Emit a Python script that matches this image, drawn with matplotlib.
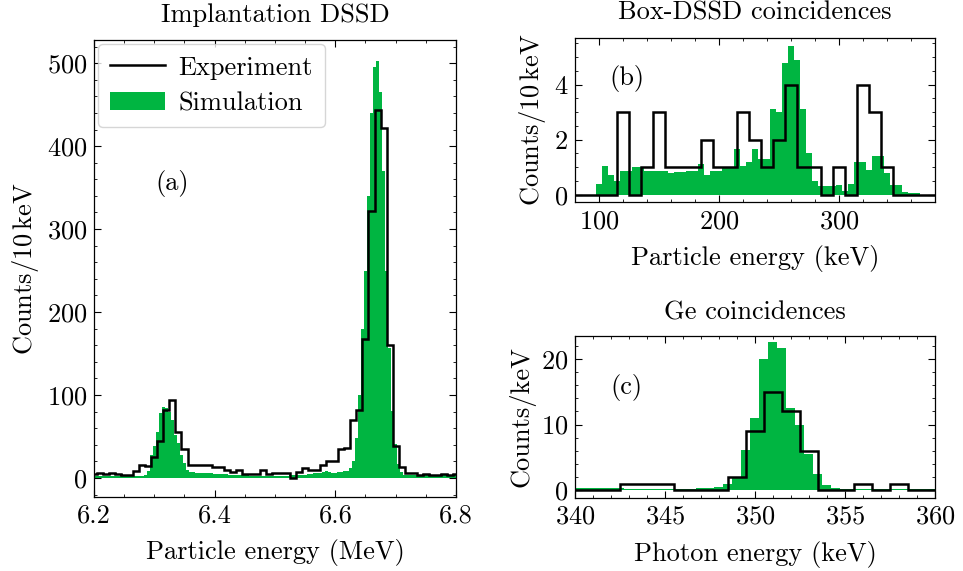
import numpy as np
import matplotlib
matplotlib.use("Agg")
import matplotlib.pyplot as plt
from matplotlib.ticker import MultipleLocator

plt.rcParams['font.family'] = 'serif'
plt.rcParams['font.serif'] = ['cmr10']
plt.rcParams['mathtext.fontset'] = 'cm'
plt.rcParams['axes.formatter.use_mathtext'] = True
plt.rcParams['axes.unicode_minus'] = False

GREEN = '#00b541'
FS = 19

# ---------------- Panel (a): Implantation DSSD ----------------
# Experiment: 10 keV bins centred on 6.20, 6.21, ... 6.80 MeV
exp_a_centers = np.round(6.20 + 0.01 * np.arange(61), 3)
exp_a_counts = [5, 6, 5, 6, 5, 4, 4, 8, 15, 14,
                25, 45, 82, 94, 55, 35, 15, 16, 16, 15,
                13, 13, 9, 7, 9, 5, 5, 5, 9, 5,
                6, 6, 6, 0.5, 7, 12, 9, 10, 16, 20,
                21, 35, 36, 70, 82, 168, 322, 443, 422, 160,
                39, 13, 6, 6, 4, 5, 4, 4, 5, 4, 5]
exp_a_width = 0.01

# Simulation: 5 keV bins centred on 6.200, 6.205, ... 6.800 MeV
sim_a_centers = np.round(6.20 + 0.005 * np.arange(121), 4)
sim_a_counts = [2, 2, 2, 2, 2, 2, 2, 2, 2, 2,
                2, 2, 2, 2, 2, 2, 2.5, 3, 8, 28,        # 6.250 .. 6.295
                38, 55, 78, 85, 84, 80, 70, 52, 42, 28,  # 6.300 .. 6.345
                18, 10, 7, 7, 6, 5.5, 5.5, 5.5, 5.5, 5.5,  # 6.350 .. 6.395
                5, 4.5, 4.5, 4.5, 4.5, 4, 3.5, 3.5, 3.5, 3.5,  # 6.400 .. 6.445
                3, 3, 2.5, 2.5, 2.5, 2.5, 2.5, 2.5, 2.5, 2.5,  # 6.450 .. 6.495
                2.5, 2.5, 2.5, 2.5, 2.5, 3, 3, 3, 3, 3.5,      # 6.500 .. 6.545
                4, 4.5, 5, 5.5, 6, 6.5, 7, 8.5, 7, 6.5,        # 6.550 .. 6.595
                6.5, 7, 7, 8, 8, 12, 20, 48, 100, 180,         # 6.600 .. 6.645
                250, 340, 440, 495, 503, 465, 370, 250, 157, 81,  # 6.650 .. 6.695
                41, 17, 7, 4, 3, 3, 3, 3, 3, 3,                # 6.700 .. 6.745
                3, 3, 3, 3, 3, 3, 3, 3, 3, 3, 3]               # 6.750 .. 6.800
sim_a_width = 0.005

# ---------------- Panel (b): Box-DSSD coincidences ----------------
exp_b_centers = np.arange(80, 381, 10)
exp_b_counts = [0, 0, 0, 0, 3, 0, 1, 3, 1, 1,
                1, 2, 1, 1, 3, 2, 1, 2, 4, 1,
                1, 0, 1, 0, 4, 3, 1, 0, 0, 0, 0]
exp_b_width = 10

sim_b_centers = np.arange(100, 366, 5)
sim_b_counts = [0.4, 1.05, 0.7, 0.5, 0.85, 0.85, 1.0, 1.0, 0.85, 0.85,   # 100..145
                0.85, 0.85, 0.8, 0.82, 0.82, 0.85, 0.85, 1.1, 0.7, 0.85,  # 150..195
                0.85, 1.0, 1.0, 1.65, 1.05, 1.2, 1.65, 1.3, 1.3, 3.1,     # 200..245
                3.0, 4.8, 5.4, 4.9, 3.1, 1.5, 0.5, 0.3, 0.3, 0.3,         # 250..295
                0.35, 0.15, 0.4, 1.2, 1.2, 0.9, 1.4, 1.4, 0.8, 0.35,      # 300..345
                0.35, 0.1, 0.05, 0.05]                                    # 350..365
sim_b_width = 5

# ---------------- Panel (c): Ge coincidences ----------------
exp_c_centers = np.arange(340, 361, 1)
exp_c_counts = [0, 0, 0, 1, 1, 1, 0, 0, 0, 2,
                9, 15, 12, 6, 0, 0, 1, 0, 1, 0, 0]
exp_c_width = 1

sim_c_centers = np.round(339.95 + 0.5 * np.arange(41), 2)
sim_c_counts = [0.3, 0.3, 0.3, 0.3, 0.3, 0.3, 0.2, 0.2, 0.2, 0.2,
                0.2, 0.2, 0.2, 0.25, 0.3, 0.3, 0.5, 1.0, 1.9, 6.1,
                11, 20, 22.6, 21.6, 12.5, 10, 5.5, 2.5, 0.8, 0.4,
                0.2, 0.2, 0.2, 0.2, 0.15, 0.15, 0.1, 0.1, 0.1, 0.1, 0.1]
sim_c_width = 0.5


def edges_from(centers, width):
    c = np.asarray(centers, dtype=float)
    return np.append(c - width / 2, c[-1] + width / 2)


def style_axes(ax, xpad=5):
    ax.tick_params(which='both', direction='in', top=True, right=True)
    ax.tick_params(which='major', length=5, width=0.8, labelsize=FS, pad=5)
    ax.tick_params(axis='x', which='major', pad=xpad)
    ax.tick_params(which='minor', length=2.5, width=0.6)
    for s in ax.spines.values():
        s.set_linewidth(0.9)


fig = plt.figure(figsize=(9.63, 5.71), dpi=100)
ax_a = fig.add_axes([0.0976, 0.1296, 0.3759, 0.8004])
ax_b = fig.add_axes([0.5971, 0.6470, 0.3738, 0.2865])
ax_c = fig.add_axes([0.5971, 0.1278, 0.3738, 0.2838])

LW = 1.8
TPAD = 12
# (a)
ax_a.stairs(sim_a_counts, edges_from(sim_a_centers, sim_a_width), fill=True,
            color=GREEN, lw=0, label='Simulation')
ax_a.stairs(exp_a_counts, edges_from(exp_a_centers, exp_a_width),
            color='black', lw=LW, label='Experiment')
ax_a.set_xlim(6.2, 6.8)
ax_a.set_ylim(-23, 528)
ax_a.xaxis.set_major_locator(MultipleLocator(0.2))
ax_a.xaxis.set_minor_locator(MultipleLocator(0.05))
ax_a.yaxis.set_major_locator(MultipleLocator(100))
ax_a.yaxis.set_minor_locator(MultipleLocator(20))
ax_a.xaxis.set_major_formatter(matplotlib.ticker.FormatStrFormatter('%.1f'))
ax_a.set_xlabel('Particle energy (MeV)', fontsize=FS, labelpad=8)
ax_a.set_ylabel('Counts/10$\\,$keV', fontsize=FS)
ax_a.set_title('Implantation DSSD', fontsize=FS, pad=TPAD + 1)
ax_a.text(0.215, 0.687, '(a)', transform=ax_a.transAxes, fontsize=FS,
          ha='center', va='center')
h, l = ax_a.get_legend_handles_labels()
ax_a.legend(h[::-1], l[::-1], loc='upper left', fontsize=FS, frameon=True,
            fancybox=True, framealpha=0.8, edgecolor='#cccccc',
            borderaxespad=0.15, handlelength=2.1, handletextpad=0.5,
            borderpad=0.45, labelspacing=0.45)
style_axes(ax_a)

# (b)
ax_b.stairs(sim_b_counts, edges_from(sim_b_centers, sim_b_width), fill=True,
            color=GREEN, lw=0)
ax_b.stairs(exp_b_counts, edges_from(exp_b_centers, exp_b_width),
            color='black', lw=LW)
ax_b.set_xlim(80, 380)
ax_b.set_ylim(-0.25, 5.7)
ax_b.xaxis.set_major_locator(MultipleLocator(100))
ax_b.xaxis.set_minor_locator(MultipleLocator(20))
ax_b.yaxis.set_major_locator(MultipleLocator(2))
ax_b.yaxis.set_minor_locator(MultipleLocator(0.5))
ax_b.set_xlabel('Particle energy (keV)', fontsize=FS, labelpad=8.5)
ax_b.set_ylabel('Counts/10$\\,$keV', fontsize=FS)
ax_b.set_title('Box-DSSD coincidences', fontsize=FS, pad=TPAD + 1)
ax_b.text(0.144, 0.755, '(b)', transform=ax_b.transAxes, fontsize=FS,
          ha='center', va='center')
style_axes(ax_b, xpad=6)

# (c)
ax_c.stairs(sim_c_counts, edges_from(sim_c_centers, sim_c_width), fill=True,
            color=GREEN, lw=0)
ax_c.stairs(exp_c_counts, edges_from(exp_c_centers, exp_c_width),
            color='black', lw=LW)
ax_c.set_xlim(340, 360)
ax_c.set_ylim(-1.2, 23.5)
ax_c.xaxis.set_major_locator(MultipleLocator(5))
ax_c.xaxis.set_minor_locator(MultipleLocator(1))
ax_c.yaxis.set_major_locator(MultipleLocator(10))
ax_c.yaxis.set_minor_locator(MultipleLocator(2))
ax_c.set_xlabel('Photon energy (keV)', fontsize=FS, labelpad=9)
ax_c.set_ylabel('Counts/keV', fontsize=FS)
ax_c.set_title('Ge coincidences', fontsize=FS, pad=TPAD)
ax_c.text(0.144, 0.685, '(c)', transform=ax_c.transAxes, fontsize=FS,
          ha='center', va='center')
style_axes(ax_c, xpad=5)

fig.savefig('out.png', dpi=100)
